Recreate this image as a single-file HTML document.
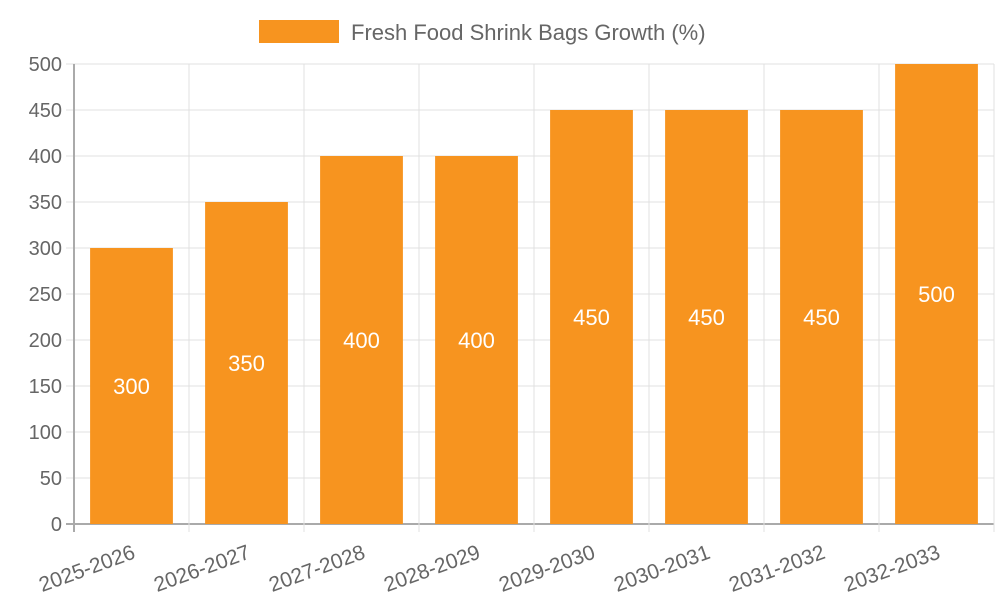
<!DOCTYPE html>
<html><head><meta charset="utf-8"><style>body{margin:0;background:#fff}svg{display:block;font-family:"Liberation Sans",sans-serif}</style></head>
<body>
<svg id="chart" width="1000" height="600" viewBox="0 0 1000 600">
<g>
<rect x="259" y="20" width="80" height="23" fill="#f7941f"/>
<text x="351" y="40" font-size="22" fill="#666">Fresh Food Shrink Bags Growth (%)</text>
</g>
<g id="grid"></g><g id="bars"></g><g id="labels"></g>
</svg>
<script>
const categories=["2025-2026","2026-2027","2027-2028","2028-2029","2029-2030","2030-2031","2031-2032","2032-2033"];
const values=[300,350,400,400,450,450,450,500];
const yTicks=[0,50,100,150,200,250,300,350,400,450,500];
const L=74,R=994,T=64,B=524,yMax=500;
const NS="http://www.w3.org/2000/svg";
const bw=(R-L)/categories.length;
const y=v=>B-(v/yMax)*(B-T);
const x=i=>L+i*bw;
function mk(tag,attrs,parent,txt){const e=document.createElementNS(NS,tag);for(const k in attrs)e.setAttribute(k,attrs[k]);if(txt!==undefined)e.textContent=txt;document.getElementById(parent).appendChild(e);return e;}
yTicks.forEach(t=>{
 const g=mk('line',{x1:L-8,x2:R,y1:y(t),y2:y(t),stroke:t===0?'#aaa':'#e0e0e0','stroke-width':t===0?2:1},'grid');
 
 
 const tl=mk('text',{x:L-12,y:y(t)+7,'text-anchor':'end','font-size':20,fill:'#666'},'labels',t);
 
 
});
for(let i=0;i<=categories.length;i++){
 const g=mk('line',{x1:x(i),x2:x(i),y1:T,y2:B+8,stroke:i===0?'#aaa':'#e0e0e0','stroke-width':i===0?2:1},'grid');
 
 
}
categories.forEach((c,i)=>{
 const bx=x(i)+bw*0.14, w=bw*0.72;
 const r=mk('rect',{x:bx,y:y(values[i]),width:w,height:B-y(values[i]),fill:'#f7941f'},'bars');
 
 
 const cx=x(i)+bw/2;
 const vl=mk('text',{x:cx,y:(y(values[i])+B)/2+8,'text-anchor':'middle','font-size':22,fill:'#fff'},'labels',values[i]);
 
 
 const xl=mk('text',{x:cx,y:B+20,'text-anchor':'end','font-size':21,fill:'#666',transform:`rotate(-20 ${cx} ${B+20})`,dy:'0.7em'},'labels',c);
 
 
});
</script>
</body></html>
